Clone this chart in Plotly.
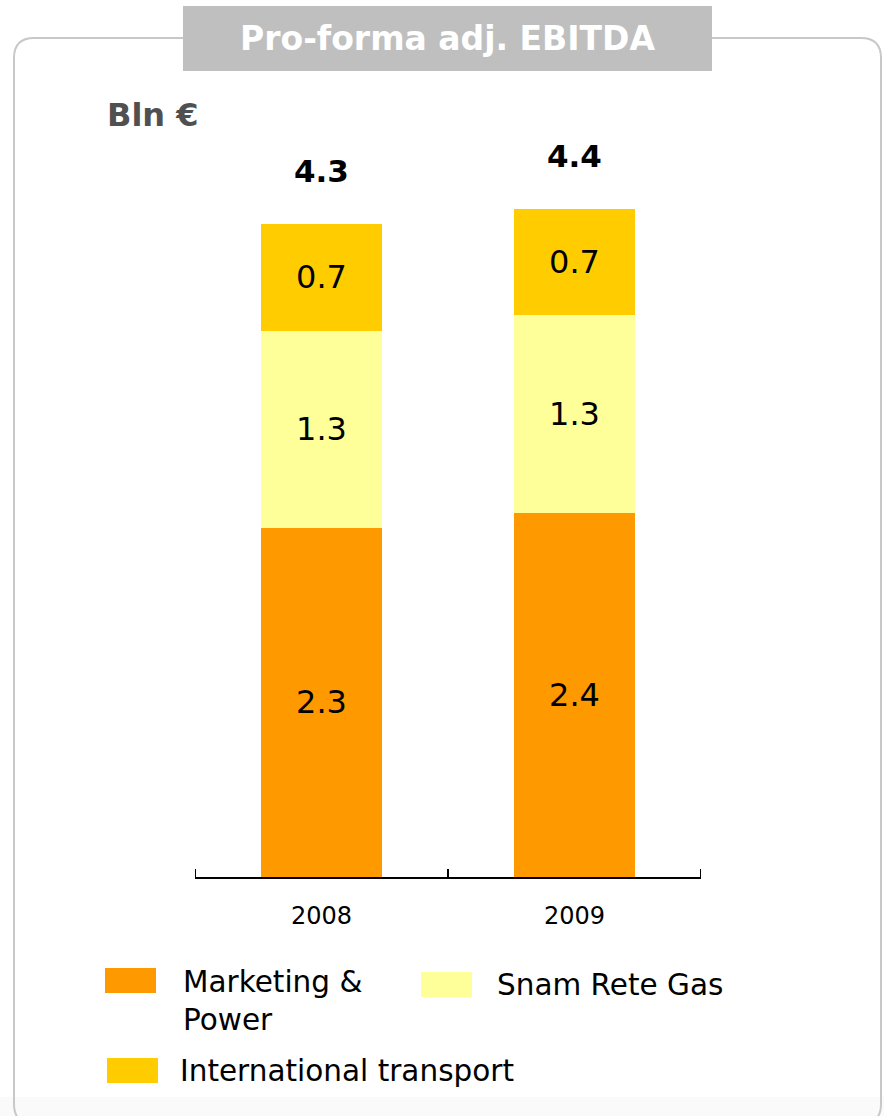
import plotly.graph_objects as go

# ---- data (Bln €) ----
years = ["2008", "2009"]
series_names = ["Marketing & Power", "Snam Rete Gas", "International transport"]
marketing_power = [2.3, 2.4]
snam_rete_gas = [1.3, 1.3]
international_transport = [0.7, 0.7]
totals = [4.3, 4.4]
series_colors = ["#FF9900", "#FFFF99", "#FFCC00"]

W, H = 884, 1116


def px(x):
    return x / W


def py(y):
    return 1 - y / H


FONT = "DejaVu Sans"

fig = go.Figure()
for name, vals, color in zip(series_names,
                             [marketing_power, snam_rete_gas, international_transport],
                             series_colors):
    fig.add_trace(go.Bar(
        x=years, y=vals, name=name, width=0.48,
        marker=dict(color=color, line=dict(width=0)),
        texttemplate="%{y:.1f}", textposition="inside",
        insidetextanchor="middle", textangle=0,
        textfont=dict(family=FONT, size=32, color="#000000"),
        showlegend=False, hoverinfo="skip",
    ))

# totals above each stack (category index used for x)
annotations = []
for i, tot in enumerate(totals):
    annotations.append(dict(
        x=i, y=tot, xref="x", yref="y", text=f"<b>{tot:.1f}</b>",
        showarrow=False, xanchor="center", yanchor="middle", yshift=53,
        font=dict(family=FONT, size=31, color="#000000"),
    ))

# title and unit label
annotations.append(dict(
    x=px(447.5), y=py(38), xref="paper", yref="paper",
    text="<b>Pro-forma adj. EBITDA</b>", showarrow=False,
    xanchor="center", yanchor="middle",
    font=dict(family=FONT, size=33, color="#FFFFFF"),
))
annotations.append(dict(
    x=px(105), y=py(115), xref="paper", yref="paper",
    text="<b>Bln €</b>", showarrow=False,
    xanchor="left", yanchor="middle",
    font=dict(family=FONT, size=32, color="#505050"),
))

shapes = []

# faint band along the bottom edge
shapes.append(dict(type="rect", xref="paper", yref="paper",
                   x0=0, x1=1, y0=py(1116), y1=py(1097),
                   fillcolor="#FAFAFA", line=dict(width=0), layer="below"))

# rounded panel outline
L, R, T, B, r = 14, 881, 38, 1124, 20
path = (
    f"M {px(L)},{py(B - r)} "
    f"L {px(L)},{py(T + r)} Q {px(L)},{py(T)} {px(L + r)},{py(T)} "
    f"L {px(R - r)},{py(T)} Q {px(R)},{py(T)} {px(R)},{py(T + r)} "
    f"L {px(R)},{py(B - r)} Q {px(R)},{py(B)} {px(R - r)},{py(B)} "
    f"L {px(L + r)},{py(B)} Q {px(L)},{py(B)} {px(L)},{py(B - r)} Z"
)
shapes.append(dict(type="path", xref="paper", yref="paper", path=path,
                   line=dict(color="#C8C8C8", width=2), fillcolor="rgba(0,0,0,0)"))

# title box
shapes.append(dict(type="rect", xref="paper", yref="paper",
                   x0=px(183), x1=px(712), y0=py(71), y1=py(6),
                   fillcolor="#BFBFBF", line=dict(width=0)))

# outer category-boundary ticks at both ends of the axis
for edge in (-0.5, len(years) - 0.5):
    shapes.append(dict(type="line", xref="x", yref="paper",
                       x0=edge, x1=edge, y0=py(878), y1=py(869),
                       line=dict(color="#000000", width=2)))

# legend: swatches + labels
legend_items = [
    ("Marketing &<br>Power", (105, 968), (181, 1001)),
    ("Snam Rete Gas", (421, 972), (495, 985)),
    ("International transport", (107, 1058), (178, 1071)),
]
for (label, (sx, sy), (tx, ty)), color in zip(legend_items, series_colors):
    shapes.append(dict(type="rect", xref="paper", yref="paper",
                       x0=px(sx), x1=px(sx + 51), y0=py(sy + 25), y1=py(sy),
                       fillcolor=color, line=dict(width=0)))
    annotations.append(dict(
        x=px(tx), y=py(ty), xref="paper", yref="paper", text=label,
        showarrow=False, xanchor="left", yanchor="middle", align="left",
        font=dict(family=FONT, size=29.5, color="#000000"),
    ))

fig.update_layout(
    width=W, height=H,
    margin=dict(l=0, r=0, t=0, b=0),
    paper_bgcolor="#FFFFFF", plot_bgcolor="rgba(0,0,0,0)",
    barmode="stack",
    xaxis=dict(
        type="category", domain=[px(195), px(701)], range=[-0.5, 1.5],
        showline=True, linecolor="#000000", linewidth=2,
        ticks="inside", tickson="boundaries", ticklen=8,
        tickcolor="#000000", tickwidth=2,
        tickfont=dict(family=FONT, size=24, color="#000000"),
        ticklabelstandoff=16, showgrid=False, zeroline=False, fixedrange=True,
    ),
    yaxis=dict(
        domain=[py(877), py(118)], range=[0, 5], visible=False,
        showgrid=False, zeroline=False, fixedrange=True,
    ),
    shapes=shapes,
    annotations=annotations,
    showlegend=False,
)

fig.write_html("out.html")
